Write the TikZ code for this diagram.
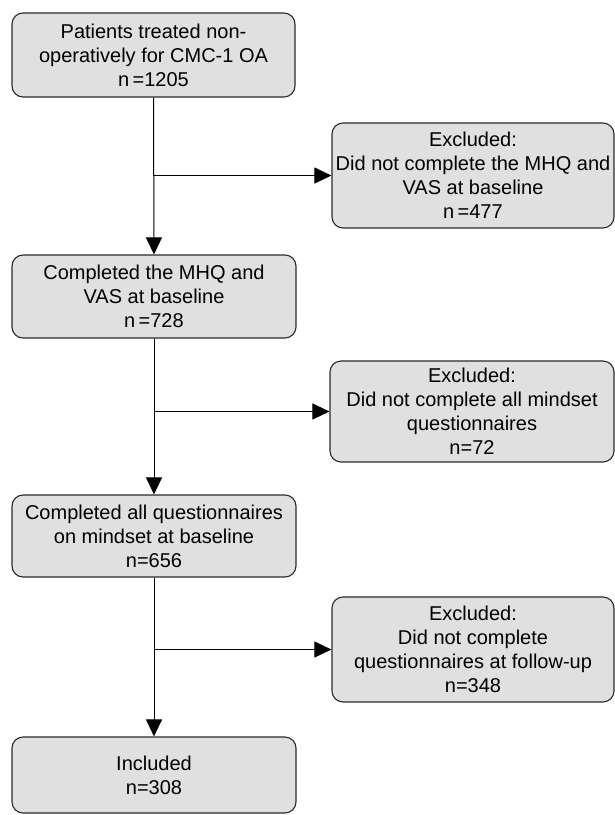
\documentclass[tikz,border=0pt]{standalone}
\usepackage{fontspec}
\setmainfont{Liberation Sans}
\usetikzlibrary{arrows.meta}
\definecolor{boxfill}{HTML}{E0E0E0}
\definecolor{boxline}{HTML}{2A2A2A}
\tikzset{
  flowbox/.style={draw=boxline, line width=1.1pt, fill=boxfill, rounded corners=11pt,
    align=center, inner sep=0pt, font=\fontsize{20}{24}\selectfont},
  conn/.style={draw=black, line width=1pt, -{Triangle[length=17pt,width=16pt]}}
}
\begin{document}
\begin{tikzpicture}[x=1pt,y=-1pt]
\useasboundingbox (0,0) rectangle (615,815);
\node[flowbox, minimum width=283pt, minimum height=84pt] (b1) at (153.5,55)
  {Patients treated non-\\operatively for CMC-1 OA\\n\,=1205};
\node[flowbox, minimum width=284pt, minimum height=83pt] (b2) at (154,296.5)
  {Completed the MHQ and\\VAS at baseline\\n\,=728};
\node[flowbox, minimum width=284pt, minimum height=82pt] (b3) at (154,536)
  {Completed all questionnaires\\on mindset at baseline\\n=656};
\node[flowbox, minimum width=284pt, minimum height=76pt] (b4) at (154,775)
  {Included\\n=308};
\node[flowbox, minimum width=282pt, minimum height=105pt] (e1) at (473,175.5)
  {Excluded:\\Did not complete the MHQ and\\VAS at baseline\\n\,=477};
\node[flowbox, minimum width=284pt, minimum height=101pt] (e2) at (472,411.5)
  {Excluded:\\Did not complete all mindset\\questionnaires\\n=72};
\node[flowbox, minimum width=282pt, minimum height=105pt] (e3) at (473,649.5)
  {Excluded:\\Did not complete\\questionnaires at follow-up\\n=348};
\coordinate (j1) at (154,175.5);
\coordinate (j2) at (154,411.5);
\coordinate (j3) at (154,649.5);
\draw[conn] (b1.south) -- (b2.north);
\draw[conn] (b2.south) -- (b3.north);
\draw[conn] (b3.south) -- (b4.north);
\draw[conn] (j1) -- (e1.west);
\draw[conn] (j2) -- (e2.west);
\draw[conn] (j3) -- (e3.west);
\end{tikzpicture}
\end{document}
